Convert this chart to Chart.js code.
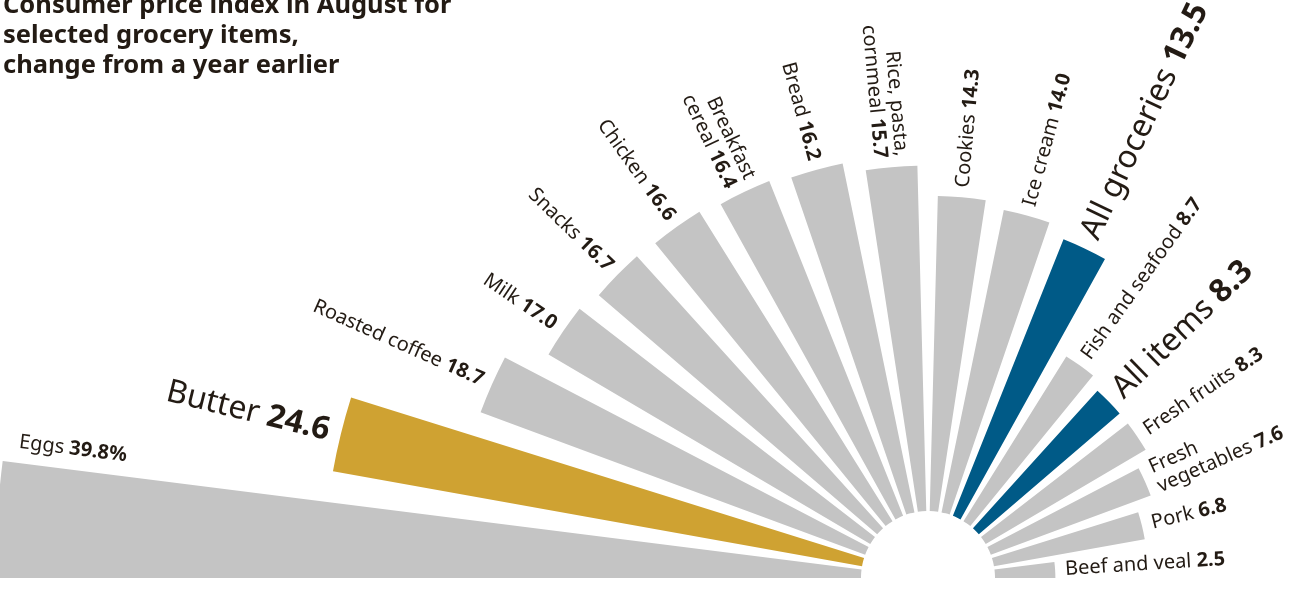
<!DOCTYPE html>
<html>
<head>
<meta charset="utf-8">
<script src="https://cdn.jsdelivr.net/npm/chart.js@4.4.0/dist/chart.umd.min.js"></script>
<style>
  html, body { margin: 0; padding: 0; background: #fff; }
  #contenedor { width: 1294px; height: 608px; }
</style>
</head>
<body>
<div id="contenedor"><canvas id="grafica" width="1294" height="608"></canvas></div>
<script>
const categorias = ['Eggs', 'Butter', 'Roasted coffee', 'Milk', 'Snacks', 'Chicken', 'Breakfast cereal', 'Bread',
  'Rice, pasta, cornmeal', 'Cookies', 'Ice cream', 'All groceries', 'Fish and seafood', 'All items',
  'Fresh fruits', 'Fresh vegetables', 'Pork', 'Beef and veal'];
const valores = [39.8, 24.6, 18.7, 17.0, 16.7, 16.6, 16.4, 16.2, 15.7, 14.3, 14.0, 13.5, 8.7, 8.3, 8.3, 7.6, 6.8, 2.5];
const destacados = ['Butter', 'All groceries', 'All items'];
const saltos = {
  'Breakfast cereal': ['Breakfast', 'cereal'],
  'Rice, pasta, cornmeal': ['Rice, pasta,', 'cornmeal'],
  'Fresh vegetables': ['Fresh', 'vegetables']
};
const titulo = ['Consumer price index in August for', 'selected grocery items,', 'change from a year earlier'];

const GRIS = '#c4c4c4';
const ORO = '#cfa232';
const AZUL = '#005a87';
const TINTA = '#231b14';
const FUENTE = '"Noto Sans", sans-serif';
const HUECO = 2.95; // grados de separacion entre barras
const PASO = (180 + HUECO) / categorias.length;
const HOYO = 67;    // radio del semicirculo blanco del centro

const colores = categorias.map(c => c === 'Butter' ? ORO : (c.startsWith('All') ? AZUL : GRIS));

// separa las barras y abre el hueco del centro
const separarBarras = {
  id: 'separarBarras',
  afterDatasetsUpdate(chart) {
    const medio = HUECO * Math.PI / 360;
    chart.getDatasetMeta(0).data.forEach(arco => {
      arco.startAngle += medio;
      arco.endAngle -= medio;
      arco.innerRadius = HOYO;
    });
  }
};

function escribir(ctx, lineas, valor, alinear, grande) {
  const tam = grande ? 32 : 20;
  const alto = grande ? 34 : 21;
  lineas.forEach((txt, j) => {
    const y = (j - (lineas.length - 1) / 2) * alto;
    const ultima = j === lineas.length - 1;
    const texto = ultima ? txt + ' ' : txt;
    ctx.font = `400 ${tam}px ${FUENTE}`;
    const w1 = ctx.measureText(texto).width;
    let w2 = 0;
    if (ultima) {
      ctx.font = `700 ${tam}px ${FUENTE}`;
      w2 = ctx.measureText(valor).width;
    }
    const x = alinear === 'right' ? -(w1 + w2) : 0;
    ctx.font = `400 ${tam}px ${FUENTE}`;
    ctx.fillText(texto, x, y);
    if (ultima) {
      ctx.font = `700 ${tam}px ${FUENTE}`;
      ctx.fillText(valor, x + w1, y);
    }
  });
}

const rotulos = {
  id: 'rotulos',
  afterDatasetsDraw(chart) {
    const ctx = chart.ctx;
    const escala = chart.scales.r;
    const cx = escala.xCenter, cy = escala.yCenter;
    ctx.save();
    ctx.fillStyle = TINTA;
    ctx.textAlign = 'left';

    chart.getDatasetMeta(0).data.forEach((arco, i) => {
      const nombre = categorias[i];
      const lineas = saltos[nombre] || [nombre];
      const valor = valores[i].toFixed(1) + (i === 0 ? '%' : '');
      const grande = destacados.includes(nombre);
      ctx.save();
      if (i === 0) {
        // la barra mas larga lleva el rotulo encima de su borde
        const a = arco.endAngle;
        const r = arco.outerRadius - 14;
        ctx.translate(cx + r * Math.cos(a), cy + r * Math.sin(a));
        ctx.rotate(a - Math.PI);
        ctx.textBaseline = 'alphabetic';
        ctx.translate(0, -15);
        escribir(ctx, lineas, valor, 'left', grande);
      } else {
        const a = (arco.startAngle + arco.endAngle) / 2;
        const r = arco.outerRadius + (grande ? 12 : 10);
        ctx.translate(cx + r * Math.cos(a), cy + r * Math.sin(a));
        ctx.textBaseline = 'middle';
        const izquierda = Math.cos(a) < 0;
        ctx.rotate(izquierda ? a - Math.PI : a);
        escribir(ctx, lineas, valor, izquierda ? 'right' : 'left', grande);
      }
      ctx.restore();
    });

    ctx.font = `700 25.5px ${FUENTE}`;
    ctx.textBaseline = 'alphabetic';
    titulo.forEach((t, j) => ctx.fillText(t, 3, 13 + j * 30));
    ctx.restore();
  }
};

const ctx = document.getElementById('grafica').getContext('2d');
new Chart(ctx, {
  type: 'polarArea',
  data: {
    labels: categorias,
    datasets: [{
      data: valores,
      backgroundColor: colores,
      borderWidth: 0,
      angle: PASO
    }]
  },
  options: {
    responsive: false,
    animation: false,
    layout: { padding: 0 },
    plugins: {
      legend: { display: false },
      tooltip: { enabled: false }
    },
    scales: {
      r: {
        display: false,
        min: -3.4,
        max: 40,
        startAngle: -90 - HUECO / 2,
        afterFit(escala) {
          // centro en la base del grafico, semicirculo
          escala.xCenter = 928;
          escala.yCenter = 578;
          escala.drawingArea = 937;
        }
      }
    }
  },
  plugins: [separarBarras, rotulos]
});
</script>
</body>
</html>
